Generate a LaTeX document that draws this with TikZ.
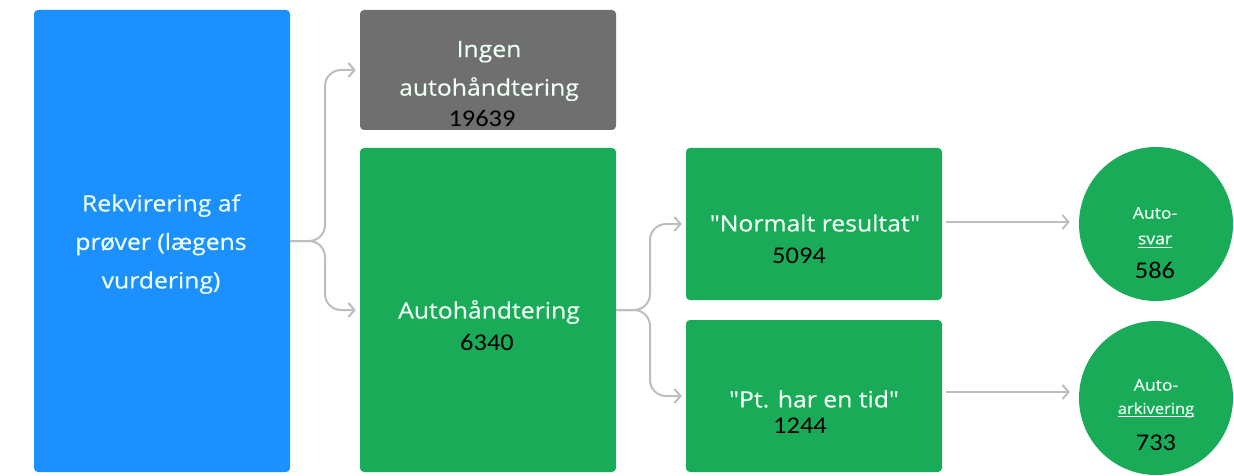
\documentclass[tikz,border=0pt]{standalone}
\usepackage{fontspec}
\setmainfont{Open Sans}
\newfontfamily\lblfont[FakeStretch=1.1,FakeBold=0.4]{Open Sans}
\newfontfamily\numfont[FakeStretch=1.1]{Carlito}
\usetikzlibrary{arrows.meta,calc}
\definecolor{cblue}{HTML}{1C90FF}
\definecolor{cgray}{HTML}{6F6F6F}
\definecolor{cgreen}{HTML}{1AAB58}
\definecolor{cline}{HTML}{BEBEBE}
\definecolor{ctext}{HTML}{EEFFF4}
\begin{document}
\begin{tikzpicture}[x=1pt,y=-1pt,
  box/.style={rounded corners=4pt, minimum width=256pt, inner sep=0pt},
  conn/.style={draw=cline, line width=2pt, -{Straight Barb[length=6pt,width=14pt,line width=2pt]}, rounded corners=16pt, shorten >=4pt},
  straight/.style={draw=cline, line width=2pt, -{Straight Barb[length=6pt,width=14pt,line width=2pt]}, shorten >=9pt, shorten <=4pt},
  num/.style={font=\numfont\fontsize{24}{26}\selectfont, text=black, inner sep=0pt},
  lbl/.style={text=ctext, font=\lblfont\fontsize{22.5}{38.5}\selectfont, inner sep=0pt, align=center},
  small/.style={text=ctext, font=\lblfont\fontsize{16}{18}\selectfont, inner sep=0pt},
  circ/.style={circle, fill=cgreen, minimum size=154pt, inner sep=0pt}
]
\useasboundingbox (0,0) rectangle (1234,476);
\fill[white] (0,0) rectangle (1234,476);

% boxes
\node[box, fill=cblue, minimum height=462pt] (req) at (162,241) {};
\node[lbl] (reqt) at (161,244) {Rekvirering af\\prøver (lægens\\vurdering)};

\node[box, fill=cgray, minimum height=120pt] (no) at (488,70) {};
\node[lbl] (not) at (489,71) {Ingen\\autohåndtering};
\node[num] (non) at (482,118) {19639};

\node[box, fill=cgreen, minimum height=324pt] (auto) at (488,310) {};
\node[lbl] (autot) at (489,312) {Autohåndtering};
\node[num] (auton) at (487,342) {6340};

\node[box, fill=cgreen, minimum height=152pt] (norm) at (814,224) {};
\node[lbl] (normt) at (815,223) {"Normalt resultat"};
\node[num] (normn) at (799,256) {5094};

\node[box, fill=cgreen, minimum height=152pt] (pt) at (814,396) {};
\node[lbl] (ptt) at (814,399) {"Pt. har en tid"};
\node[num] (ptn) at (800,426) {1244};

% circles
\node[circ] (c1) at (1156,224) {};
\node[small] (c1a) at (1155,213) {Auto-};
\node[small] (c1b) at (1155,240) {svar};
\draw[ctext, line width=0.8pt] ([yshift=-3pt]c1b.base west) -- ([yshift=-3pt]c1b.base east);
\node[num] (c1n) at (1155,270) {586};

\node[circ] (c2) at (1156,398) {};
\node[small] (c2a) at (1156,385) {Auto-};
\node[small, font=\lblfont\fontsize{15}{17}\selectfont] (c2b) at (1156,410) {arkivering};
\draw[ctext, line width=0.8pt] ([yshift=-3pt]c2b.base west) -- ([yshift=-3pt]c2b.base east);
\node[num] (c2n) at (1156,443) {733};

% connectors
\coordinate (j1) at (325,241);
\draw[conn] (req.east) -- (j1) |- (no.west);
\draw[conn] (req.east) -- (j1) |- (auto.west);

\coordinate (j2) at (650,310);
\draw[conn] (auto.east) -- (j2) |- (norm.west);
\draw[conn] (auto.east) -- (j2) |- (pt.west);

\draw[straight] ([yshift=2pt]norm.east) -- ([yshift=2pt]norm.east -| c1.west);
\draw[straight] ([yshift=4pt]pt.east) -- ([yshift=4pt]pt.east -| c2.west);
\end{tikzpicture}
\end{document}
